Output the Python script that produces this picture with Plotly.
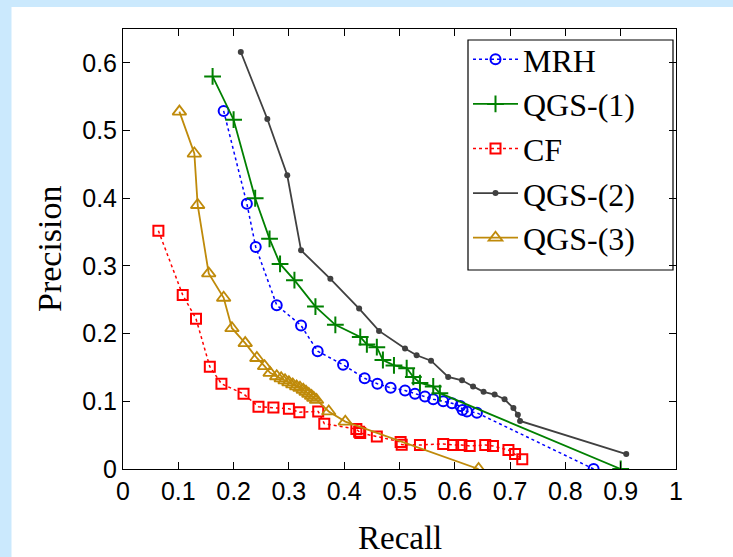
import plotly.graph_objects as go

# ---- data ----
mrh_x = [0.182, 0.224, 0.240, 0.278, 0.322, 0.352, 0.398, 0.437, 0.460, 0.484, 0.510, 0.528,
         0.546, 0.561, 0.579, 0.595, 0.610, 0.614, 0.622, 0.640, 0.851]
mrh_y = [0.529, 0.392, 0.328, 0.242, 0.212, 0.174, 0.154, 0.134, 0.126, 0.120, 0.116, 0.111,
         0.107, 0.103, 0.100, 0.097, 0.093, 0.087, 0.085, 0.083, 0.000]

qgs1_x = [0.162, 0.200, 0.239, 0.265, 0.284, 0.310, 0.348, 0.384, 0.429, 0.441, 0.459, 0.470,
          0.490, 0.513, 0.525, 0.537, 0.561, 0.573, 0.900]
qgs1_y = [0.580, 0.516, 0.400, 0.340, 0.303, 0.279, 0.240, 0.213, 0.195, 0.184, 0.180, 0.161,
          0.153, 0.149, 0.136, 0.127, 0.122, 0.112, 0.000]

cf_x = [0.064, 0.108, 0.132, 0.157, 0.178, 0.218, 0.245, 0.272, 0.300, 0.319, 0.353, 0.364,
        0.422, 0.427, 0.429, 0.459, 0.502, 0.504, 0.537, 0.579, 0.597, 0.612, 0.627, 0.655,
        0.669, 0.697, 0.709, 0.722]
cf_y = [0.352, 0.257, 0.222, 0.151, 0.126, 0.111, 0.092, 0.091, 0.089, 0.084, 0.085, 0.067,
        0.059, 0.055, 0.053, 0.048, 0.040, 0.036, 0.0355, 0.037, 0.0355, 0.0355, 0.034, 0.0355,
        0.034, 0.028, 0.022, 0.0145]

qgs2_x = [0.213, 0.261, 0.297, 0.322, 0.375, 0.427, 0.463, 0.510, 0.531, 0.557, 0.588, 0.613,
          0.633, 0.652, 0.672, 0.690, 0.706, 0.714, 0.718, 0.910]
qgs2_y = [0.616, 0.517, 0.434, 0.323, 0.281, 0.237, 0.204, 0.178, 0.168, 0.160, 0.136, 0.131,
          0.122, 0.114, 0.110, 0.103, 0.090, 0.080, 0.071, 0.022]

qgs3_x = [0.102, 0.129, 0.135, 0.155, 0.182, 0.197, 0.221, 0.242, 0.256, 0.266, 0.278, 0.286,
          0.293, 0.300, 0.307, 0.314, 0.320, 0.326, 0.331, 0.336, 0.341, 0.345, 0.350, 0.372,
          0.402, 0.643]
qgs3_y = [0.528, 0.466, 0.390, 0.289, 0.253, 0.208, 0.186, 0.164, 0.152, 0.142, 0.137, 0.134,
          0.131, 0.128, 0.125, 0.122, 0.120, 0.117, 0.114, 0.111, 0.108, 0.105, 0.102, 0.085,
          0.070, 0.000]

x_ticks = [0, 0.1, 0.2, 0.3, 0.4, 0.5, 0.6, 0.7, 0.8, 0.9, 1]
x_tick_labels = ["0", "0.1", "0.2", "0.3", "0.4", "0.5", "0.6", "0.7", "0.8", "0.9", "1"]
y_ticks = [0, 0.1, 0.2, 0.3, 0.4, 0.5, 0.6]
y_tick_labels = ["0", "0.1", "0.2", "0.3", "0.4", "0.5", "0.6"]

SERIF = "Liberation Serif, DejaVu Serif, serif"
SANS = "Liberation Sans, Arial, sans-serif"

# plot-area pixel geometry (733x557 figure)
L, R, T, B = 123, 57, 29, 88
PW, PH = 733 - L - R, 557 - T - B


def px_x(p):
    return (p - L) / PW


def px_y(p):
    return (557 - B - p) / PH


fig = go.Figure()
fig.add_trace(go.Scatter(x=mrh_x, y=mrh_y, name="MRH", mode="lines+markers",
                         line=dict(color="#0000ff", width=1.5, dash="dot"),
                         marker=dict(symbol="circle-open", size=10, color="#0000ff",
                                     line=dict(width=2, color="#0000ff"))))
fig.add_trace(go.Scatter(x=qgs1_x, y=qgs1_y, name="QGS-(1)", mode="lines+markers",
                         line=dict(color="#008000", width=1.8),
                         marker=dict(symbol="cross-thin-open", size=12, color="#008000",
                                     line=dict(width=2, color="#008000"))))
fig.add_trace(go.Scatter(x=cf_x, y=cf_y, name="CF", mode="lines+markers",
                         line=dict(color="#ff0000", width=1.5, dash="dot"),
                         marker=dict(symbol="square-open", size=10, color="#ff0000",
                                     line=dict(width=2, color="#ff0000"))))
fig.add_trace(go.Scatter(x=qgs2_x, y=qgs2_y, name="QGS-(2)", mode="lines+markers",
                         line=dict(color="#404040", width=1.8),
                         marker=dict(symbol="circle", size=6, color="#404040")))
fig.add_trace(go.Scatter(x=qgs3_x, y=qgs3_y, name="QGS-(3)", mode="lines+markers",
                         line=dict(color="#bf8a0a", width=1.8),
                         marker=dict(symbol="triangle-up-open", size=12, color="#bf8a0a",
                                     line=dict(width=1.8, color="#bf8a0a"))))

axis_common = dict(showline=True, linecolor="black", linewidth=1, mirror="allticks",
                   ticks="inside", ticklen=7, tickcolor="black", showgrid=False,
                   zeroline=False, tickfont=dict(family=SANS, size=25, color="black"))

fig.update_xaxes(range=[0, 1], tickvals=x_ticks, ticktext=x_tick_labels, **axis_common)
fig.update_yaxes(range=[0, 0.65], tickvals=y_ticks, ticktext=y_tick_labels, **axis_common)

fig.update_layout(
    width=733, height=557,
    margin=dict(l=L, r=R, t=T, b=B),
    paper_bgcolor="white", plot_bgcolor="white",
    showlegend=True,
    legend=dict(x=px_x(468), y=px_y(32), xanchor="left", yanchor="top",
                bgcolor="rgba(0,0,0,0)", borderwidth=0,
                font=dict(family=SERIF, size=32, color="black"),
                itemwidth=45, tracegroupgap=0),
    annotations=[
        dict(text="Recall", xref="paper", yref="paper", x=0.5, y=0, yanchor="middle",
             yshift=-69, showarrow=False, font=dict(family=SERIF, size=33, color="black")),
        dict(text="Precision", xref="paper", yref="paper", x=0, y=0.5, xanchor="center",
             xshift=-74, textangle=-90, showarrow=False,
             font=dict(family=SERIF, size=34, color="black")),
    ],
    shapes=[
        # legend frame
        dict(type="rect", xref="paper", yref="paper", x0=px_x(468), x1=px_x(673),
             y0=px_y(270), y1=px_y(40), fillcolor="white",
             line=dict(width=1.2, color="black"), layer="below"),
        # light blue page edge (left and top)
        dict(type="rect", xref="paper", yref="paper", x0=px_x(-20), x1=px_x(11.5),
             y0=px_y(600), y1=px_y(-20), fillcolor="#cbe9fd", line=dict(width=0), layer="above"),
        dict(type="rect", xref="paper", yref="paper", x0=px_x(-20), x1=px_x(760),
             y0=px_y(7), y1=px_y(-20), fillcolor="#cbe9fd", line=dict(width=0), layer="above"),
    ],
)

fig.write_html(
    "out.html",
    config={"displayModeBar": False},
    post_script="document.body.style.margin='0px';document.body.style.overflow='hidden';",
)
